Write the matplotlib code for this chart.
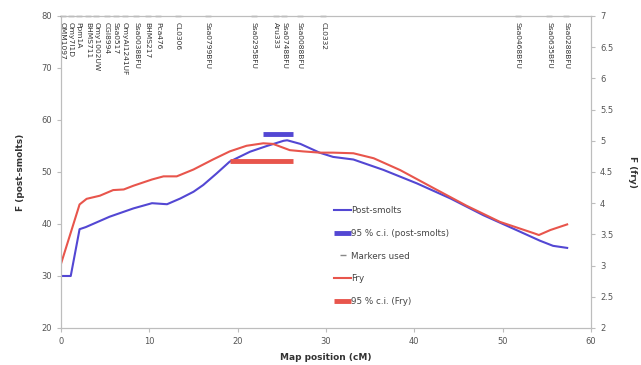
import matplotlib
matplotlib.use("Agg")
import matplotlib.pyplot as plt

# F statistic profiles along the linkage group
post_x = [0.0, 1.1, 2.1, 2.8, 5.5, 8.2, 10.3, 12.0, 13.5, 15.0, 16.1, 17.6, 19.1,
          21.4, 23.3, 25.2, 25.6, 27.1, 29.3, 30.8, 33.1, 36.5, 40.3, 44.1, 47.8,
          51.6, 54.2, 55.7, 57.3]
post_f = [30.0, 30.0, 39.0, 39.4, 41.4, 43.0, 44.0, 43.8, 44.9, 46.2, 47.5, 49.7, 52.0,
          53.9, 55.0, 56.0, 56.1, 55.4, 53.7, 52.9, 52.4, 50.4, 47.8, 44.9, 41.7,
          38.8, 36.8, 35.8, 35.4]

fry_x = [0.0, 2.1, 2.9, 4.4, 5.9, 7.1, 8.2, 10.3, 11.6, 13.1, 15.0, 17.2, 19.1, 21.0,
         22.9, 24.0, 25.9, 27.4, 29.3, 30.8, 33.1, 35.4, 38.4, 42.2, 45.9, 49.7, 53.5,
         54.1, 55.4, 57.3]
fry_f = [3.03, 3.98, 4.07, 4.12, 4.21, 4.22, 4.28, 4.38, 4.43, 4.43, 4.54, 4.70, 4.83,
         4.92, 4.96, 4.95, 4.85, 4.83, 4.81, 4.81, 4.80, 4.72, 4.53, 4.24, 3.96, 3.70,
         3.52, 3.49, 3.57, 3.66]

# 95 % confidence intervals of the QTL position (cM) and the height they are drawn at
ci_post = [22.9, 26.3]
ci_post_level = 57.4
ci_fry = [19.1, 26.3]
ci_fry_level = 4.68

# Markers used on the linkage group
marker_names = ["OMM1097", "Omy7I1D", "Ppm1A", "BHMS711", "Omy1002UW", "CGI8994",
                "Ssa0517", "OmyAl1241UF", "Ssa0038BFU", "BHMS217", "Pca476", "CL0306",
                "Ssa0799BFU", "Ssa0295BFU", "Aru333", "Ssa0748BFU", "Ssa0088BFU",
                "CL0332", "Ssa0468BFU", "Ssa0635BFU", "Ssa0288BFU"]
marker_pos = [0.2, 1.1, 2.0, 3.1, 4.0, 5.2, 6.2, 7.2, 8.5, 9.8, 11.0, 13.2, 16.6,
              21.8, 24.3, 25.3, 27.0, 29.7, 51.7, 55.3, 57.2]

blue = "#5347d3"
red = "#e8554c"
grey = "#bdbdbd"
tick_col = "#555555"

fig = plt.figure(figsize=(6.41, 3.65), dpi=100)
ax = fig.add_axes([0.0952, 0.1014, 0.8268, 0.8548])
ax2 = ax.twinx()

ax.set_xlim(0, 60)
ax.set_ylim(20, 80)
ax2.set_ylim(2, 7)

l1, = ax.plot(post_x, post_f, color=blue, lw=1.5, label="Post-smolts")
l2, = ax.plot(ci_post, [ci_post_level] * 2, color=blue, lw=3.5, solid_capstyle="butt",
              label="95 % c.i. (post-smolts)")
l3, = ax.plot(marker_pos, [80] * len(marker_pos), ls="none", marker="_", ms=4,
              color="#888888", clip_on=False, label="Markers used")
l4, = ax2.plot(fry_x, fry_f, color=red, lw=1.5, label="Fry")
l5, = ax2.plot(ci_fry, [ci_fry_level] * 2, color=red, lw=3.5, solid_capstyle="butt",
               label="95 % c.i. (Fry)")

for name, pos in zip(marker_names, marker_pos):
    ax.text(pos, 78.9, name, rotation=-90, ha="center", va="top", fontsize=5.4,
            color="#333333")

for a in (ax, ax2):
    for s in a.spines.values():
        s.set_color(grey)
        s.set_linewidth(0.8)
    a.tick_params(colors=grey, labelcolor=tick_col, labelsize=6, length=3, width=0.8)

ax.set_xticks(range(0, 61, 10))
ax.set_yticks(range(20, 81, 10))
ax2.set_yticks([2, 2.5, 3, 3.5, 4, 4.5, 5, 5.5, 6, 6.5, 7])
ax2.set_yticklabels(["2", "2.5", "3", "3.5", "4", "4.5", "5", "5.5", "6", "6.5", "7"])

ax.set_xlabel("Map position (cM)", fontsize=6.5, fontweight="bold", color="#333333",
              labelpad=5)
ax.set_ylabel("F (post-smolts)", fontsize=6.5, fontweight="bold", color="#333333",
              labelpad=12)
ax2.set_ylabel("F (fry)", fontsize=6.5, fontweight="bold", color="#333333",
               rotation=270, labelpad=17)

leg = ax.legend(handles=[l1, l2, l3, l4, l5], loc="upper left",
                bbox_to_anchor=(0.50, 0.415), frameon=False, fontsize=6.3,
                handlelength=2.0, handletextpad=0.0, labelspacing=1.55,
                labelcolor="#444444")

fig.savefig("out.png", dpi=100)
